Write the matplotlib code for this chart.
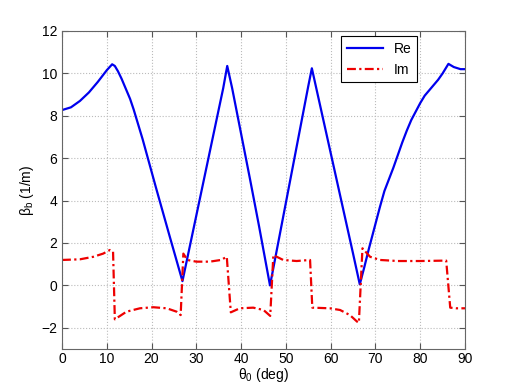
import matplotlib
matplotlib.use("Agg")
import matplotlib.pyplot as plt

plt.rcParams['font.family'] = ['Liberation Sans', 'DejaVu Sans']
plt.rcParams['mathtext.fontset'] = 'custom'
plt.rcParams['mathtext.rm'] = 'Liberation Sans'
plt.rcParams['mathtext.it'] = 'Liberation Sans'
plt.rcParams['mathtext.default'] = 'regular'

# Real part
re_x = [0, 2, 4, 6, 8, 10, 11.2, 11.8, 12.5, 13.3, 14.2, 15.2, 16, 17, 18, 21, 24, 26.9,
        28, 30, 32, 34, 36, 36.9, 38, 40, 42, 44, 46.45,
        47, 49, 51, 53, 55, 55.8, 57, 59, 61, 63, 65, 66.5,
        67.5, 68.5, 70, 71, 72, 73, 74, 75, 76, 77, 78, 79, 80, 81, 82, 83, 84, 85,
        86.3, 87.5, 89, 90]
re_y = [8.27, 8.4, 8.7, 9.1, 9.6, 10.15, 10.43, 10.35, 10.1, 9.75, 9.3, 8.8, 8.3, 7.6, 6.9,
        4.6, 2.35, 0.2,
        1.3, 3.3, 5.3, 7.3, 9.3, 10.35, 9.3, 7.15, 5.0, 2.8, 0.0,
        0.6, 2.8, 5.0, 7.2, 9.4, 10.24, 9.1, 7.2, 5.3, 3.4, 1.5, 0.05,
        0.85, 1.7, 2.9, 3.7, 4.45, 5.0, 5.55, 6.15, 6.75, 7.3, 7.8, 8.2, 8.6, 8.95, 9.2,
        9.45, 9.7, 10.0, 10.45, 10.3, 10.2, 10.2]

# Imaginary part
im_x = [0, 4, 7, 9.2, 10.7, 11.4, 11.8, 14.4, 17.4, 20.4, 23.4, 25.6, 26.5,
        27.1, 28, 30, 33, 35.5, 36.8, 37.7, 39.7, 42.7, 45, 46.5,
        47.2, 49.4, 52.4, 55.4, 55.9, 59.8, 62.1, 64.3, 65.9, 66.3,
        67.1, 68.8, 71, 75, 80, 85.8, 86.7, 88, 90]
im_y = [1.2, 1.23, 1.35, 1.5, 1.67, 1.6, -1.6, -1.24, -1.08, -1.03, -1.08, -1.24, -1.4,
        1.5, 1.2, 1.12, 1.12, 1.2, 1.35, -1.27, -1.08, -1.05, -1.16, -1.44,
        1.43, 1.2, 1.15, 1.2, -1.05, -1.08, -1.16, -1.4, -1.71, -1.76,
        1.75, 1.35, 1.2, 1.15, 1.15, 1.17, -1.05, -1.08, -1.08]

x_ticks = [0, 10, 20, 30, 40, 50, 60, 70, 80, 90]
y_ticks = [-2, 0, 2, 4, 6, 8, 10, 12]

fig = plt.figure(figsize=(5.12, 3.84), dpi=100)
ax = fig.add_axes([62/512, 35/384, 403/512, 318/384])

ax.plot(re_x, re_y, color='#0000ee', lw=1.6, label='Re')
ax.plot(im_x, im_y, color='#ee0000', lw=1.6, linestyle='-.', dashes=(4, 1.5, 1, 1.5), label='Im')

ax.set_xlim(0, 90)
ax.set_ylim(-3, 12)
ax.set_xticks(x_ticks)
ax.set_yticks(y_ticks)
ax.tick_params(direction='in', top=True, right=True, labelsize=10, length=4, color='#555555')
ax.tick_params(axis='x', pad=2.5)
ax.grid(True, linestyle=':', color='#bbbbbb', lw=0.8)
for s in ax.spines.values():
    s.set_color('#666666')

ax.set_xlabel(r'$\theta_0$ (deg)', fontsize=10, labelpad=0)
ax.set_ylabel(r'$\beta_b$ (1/m)', fontsize=10, labelpad=4)

leg = ax.legend(loc='upper right', bbox_to_anchor=(0.881, 0.984), borderaxespad=0,
                fancybox=False, framealpha=1, edgecolor='black', fontsize=10,
                handlelength=2.6)
leg.get_frame().set_linewidth(0.8)

fig.savefig('out.png', dpi=100)
